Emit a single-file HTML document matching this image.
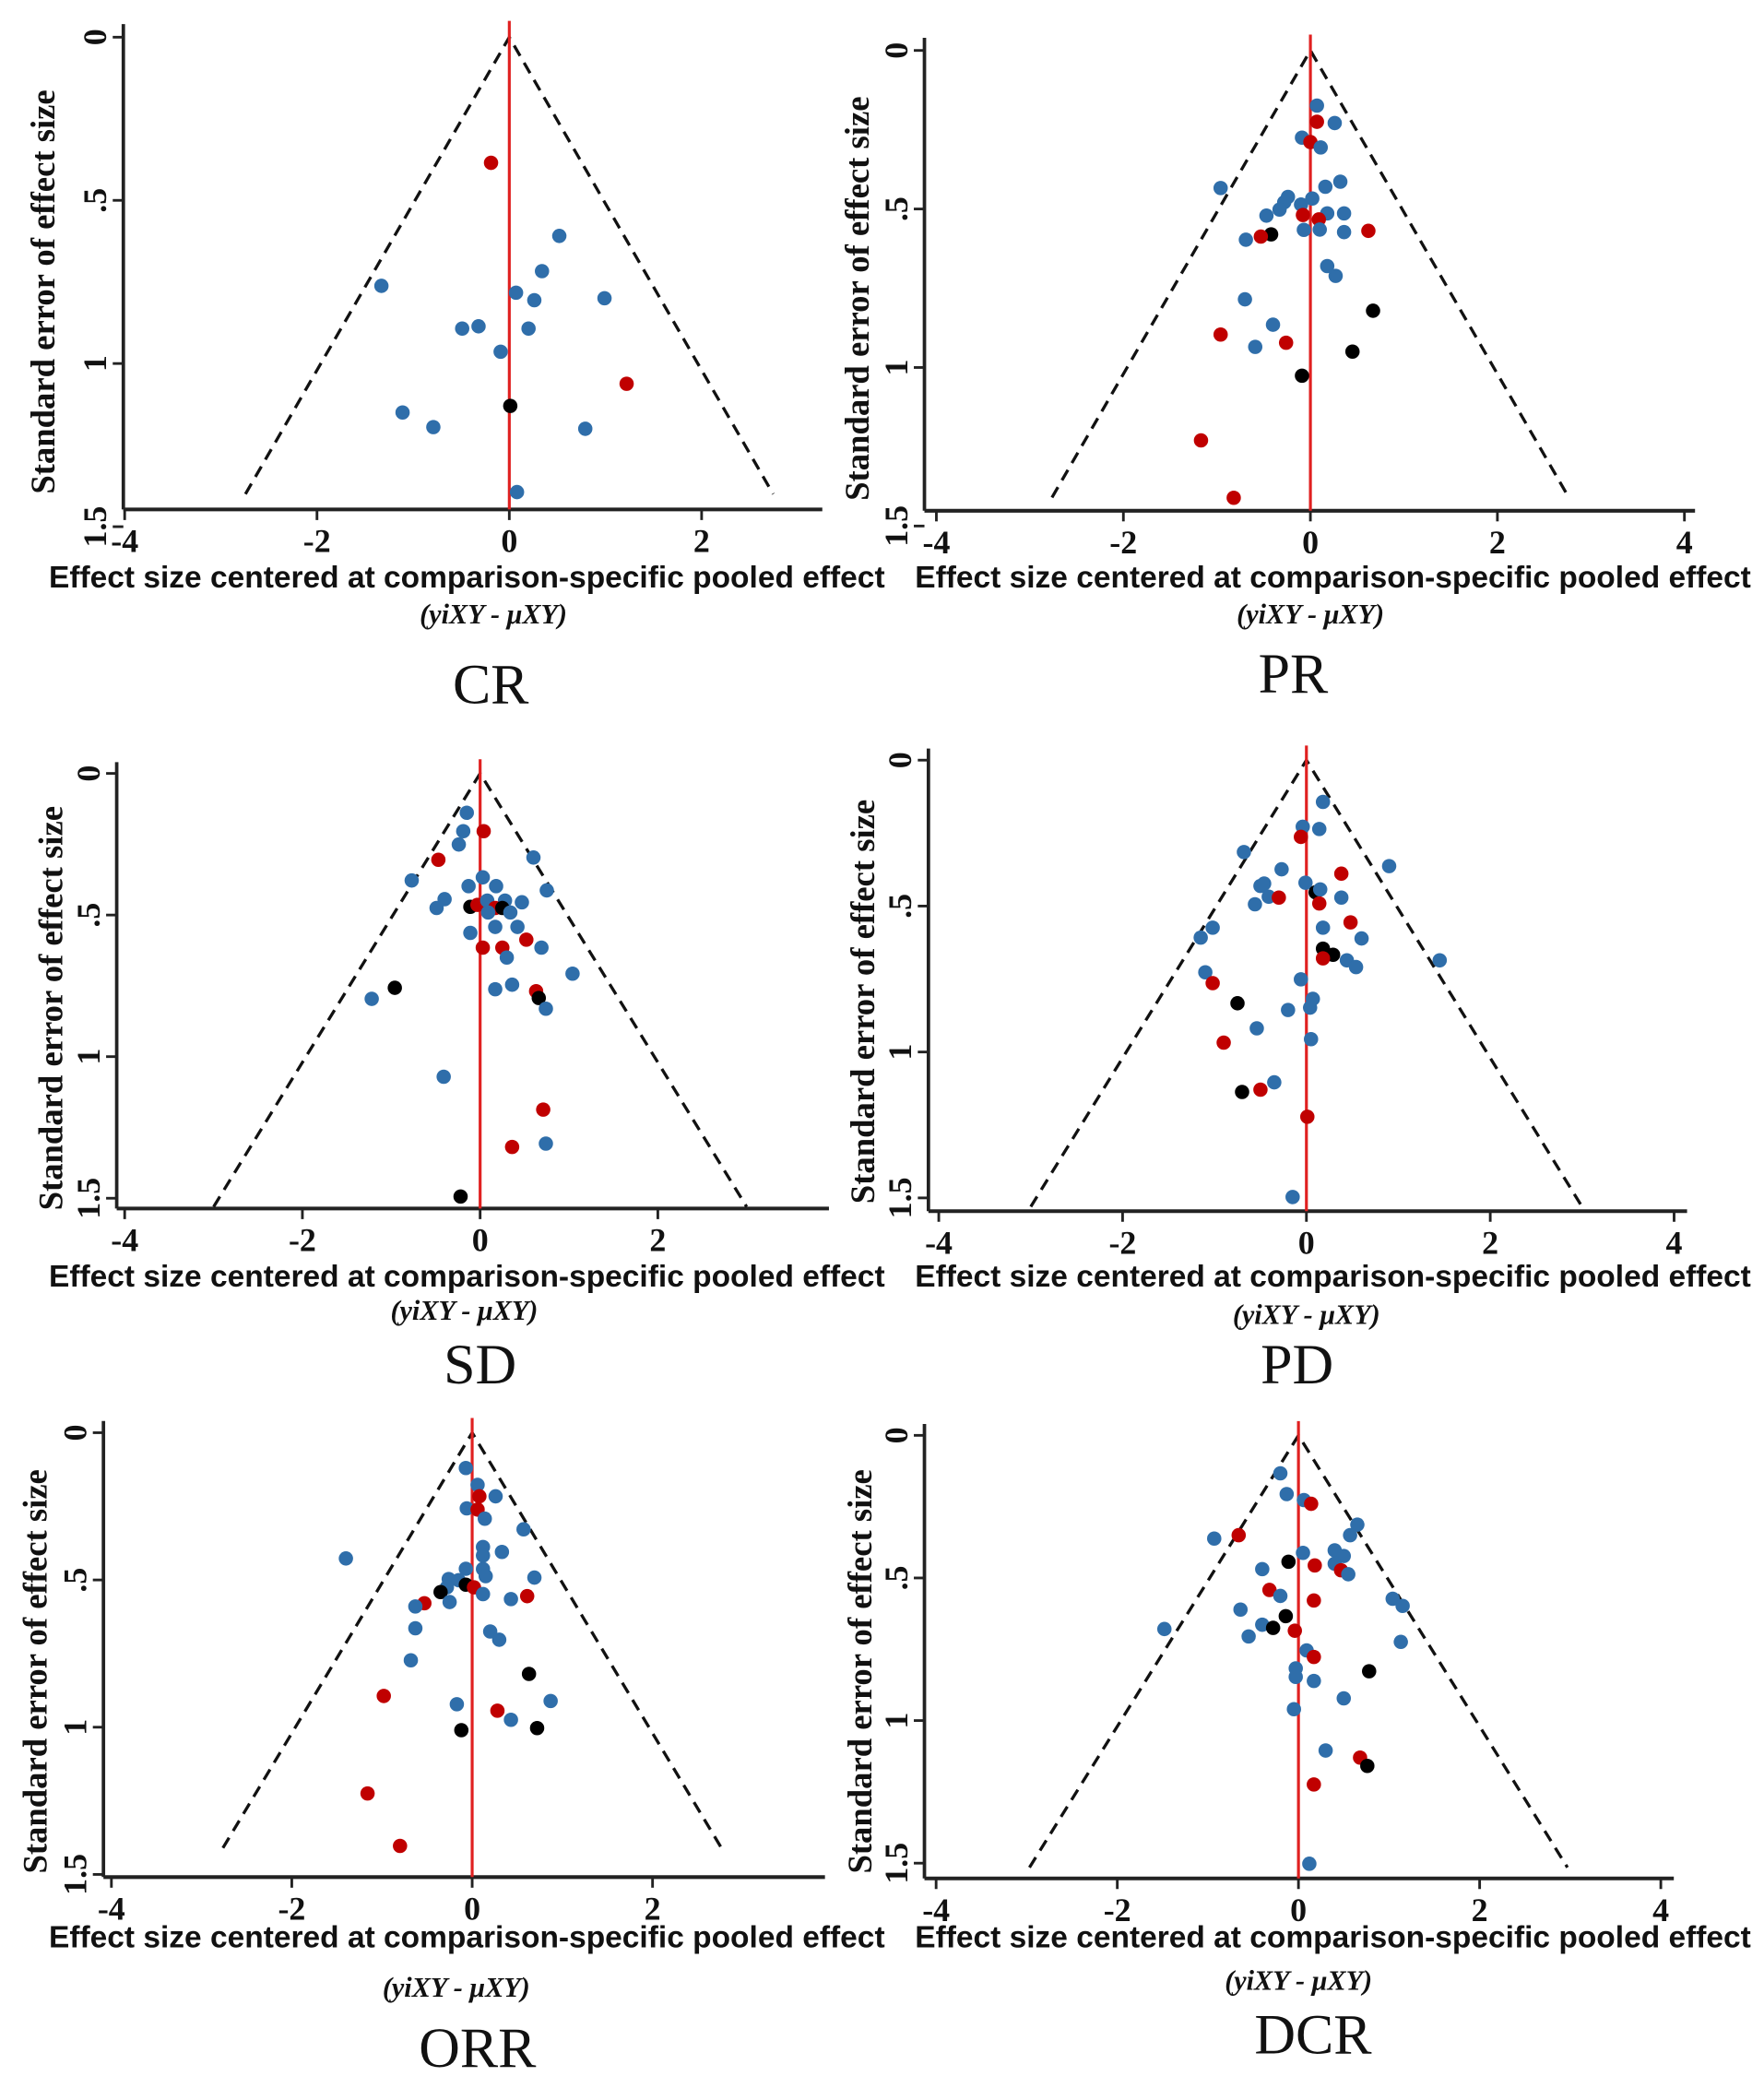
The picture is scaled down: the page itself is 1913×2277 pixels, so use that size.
<!DOCTYPE html>
<html><head><meta charset="utf-8"><style>
html,body{margin:0;padding:0;background:#fff;}
svg{display:block;}
</style></head><body>
<svg id="fig" width="1913" height="2277" viewBox="0 0 1330 1583" xmlns="http://www.w3.org/2000/svg"></svg>
<script>
// ---- data (effect size centered, standard error, group: b=blue r=red k=black) ----
const crX  = [-0.19,0.52,0.34,-1.33,0.07,0.26,0.99,-0.49,-0.32,0.20,-0.09,1.22,0.01,-1.11,-0.79,0.79,0.08];
const crSE = [0.385,0.609,0.717,0.762,0.783,0.806,0.80,0.893,0.886,0.893,0.964,1.062,1.13,1.15,1.195,1.2,1.394];
const crG  = ['r','b','b','b','b','b','b','b','b','b','b','r','k','b','b','b','b'];

const prX  = [0.07,0.07,0.26,-0.09,0.0,0.11,-0.96,0.32,0.16,-0.24,-0.28,-0.33,0.02,-0.10,-0.08,0.18,0.36,-0.47,0.09,-0.07,0.10,0.36,0.62,-0.42,-0.53,-0.69,0.18,0.27,-0.70,0.67,-0.40,-0.96,-0.26,-0.59,0.45,-0.09,-1.17,-0.82];
const prSE = [0.174,0.225,0.229,0.275,0.289,0.306,0.434,0.414,0.43,0.462,0.479,0.502,0.467,0.486,0.519,0.514,0.514,0.521,0.533,0.566,0.565,0.573,0.569,0.58,0.587,0.597,0.68,0.711,0.785,0.821,0.865,0.896,0.922,0.935,0.95,1.026,1.23,1.411];
const prG  = ['b','r','b','b','r','b','b','b','b','b','b','b','b','b','r','b','b','b','r','b','b','b','r','k','r','b','b','b','b','k','b','r','r','b','k','k','r','r'];

const sdX  = [-0.15,-0.19,0.04,-0.24,-0.47,0.60,-0.77,0.03,-0.13,0.18,0.75,-0.40,-0.49,-0.11,-0.03,0.08,0.28,0.47,0.17,0.25,0.09,0.34,0.17,0.42,-0.11,0.52,0.03,0.25,0.69,0.30,1.04,-0.96,0.17,0.36,0.63,0.66,-1.22,0.74,-0.41,0.71,0.36,0.74,-0.22];
const sdSE = [0.139,0.204,0.204,0.251,0.305,0.297,0.378,0.367,0.398,0.398,0.413,0.444,0.475,0.471,0.464,0.449,0.449,0.455,0.475,0.475,0.491,0.491,0.542,0.542,0.563,0.587,0.615,0.615,0.615,0.650,0.707,0.757,0.762,0.746,0.769,0.793,0.796,0.831,1.071,1.187,1.319,1.307,1.494];
const sdG  = ['b','b','r','b','r','b','b','b','b','b','b','b','b','k','r','b','b','b','r','k','b','b','b','b','b','r','r','r','b','b','b','k','b','b','r','k','b','b','b','r','r','b','k'];

const pdX  = [0.18,-0.04,0.14,-0.06,-0.68,0.90,-0.27,0.38,-0.01,-0.50,-0.46,0.10,0.15,-0.41,-0.30,0.38,0.14,-0.56,0.48,0.18,-1.02,-1.15,0.60,0.18,0.29,0.18,0.44,0.54,1.45,-1.10,-1.02,-0.06,0.07,0.04,-0.75,-0.20,-0.54,0.05,-0.90,-0.35,-0.50,-0.70,0.01,-0.15];
const pdSE = [0.143,0.228,0.236,0.263,0.315,0.363,0.374,0.389,0.420,0.431,0.423,0.453,0.443,0.468,0.471,0.471,0.491,0.494,0.556,0.574,0.574,0.608,0.611,0.646,0.667,0.679,0.686,0.709,0.686,0.727,0.764,0.751,0.818,0.848,0.833,0.856,0.919,0.956,0.968,1.104,1.129,1.137,1.222,1.497];
const pdG  = ['b','b','b','r','b','b','b','r','b','b','b','k','b','b','r','b','r','b','r','b','b','b','b','k','k','r','b','b','b','b','r','b','b','b','k','b','b','b','r','b','r','k','r','b'];

const orrX  = [-0.07,0.06,0.08,0.26,-0.06,0.06,0.14,0.57,0.12,0.12,0.33,-1.40,-0.07,0.12,0.15,0.69,-0.26,-0.15,-0.28,-0.07,0.02,0.12,-0.35,0.61,0.43,-0.25,-0.53,-0.63,-0.63,0.20,0.30,-0.68,0.63,-0.98,0.87,-0.17,0.28,0.43,-0.12,0.72,-1.16,-0.80];
const orrSE = [0.12,0.177,0.216,0.216,0.257,0.261,0.292,0.328,0.388,0.417,0.405,0.427,0.462,0.463,0.487,0.492,0.497,0.501,0.525,0.516,0.525,0.548,0.541,0.555,0.565,0.575,0.579,0.590,0.664,0.675,0.703,0.773,0.819,0.894,0.911,0.922,0.944,0.975,1.01,1.003,1.225,1.403];
const orrG  = ['b','b','r','b','b','r','b','b','b','b','b','b','b','b','b','b','b','b','b','k','r','b','k','r','b','b','r','b','b','b','b','b','k','r','b','b','r','b','k','k','r','r'];

const dcrX  = [-0.20,-0.13,0.06,0.14,0.65,0.57,-0.93,-0.66,0.40,0.50,0.05,-0.11,0.18,0.40,0.47,0.55,-0.40,-0.32,-0.20,0.17,1.04,1.15,-0.64,-0.14,-1.48,-0.40,-0.28,-0.04,-0.55,1.13,0.09,0.17,0.78,-0.03,-0.03,0.17,0.50,-0.05,0.30,0.68,0.76,0.17,0.12];
const dcrSE = [0.133,0.206,0.227,0.24,0.313,0.35,0.362,0.35,0.403,0.423,0.412,0.443,0.456,0.45,0.473,0.487,0.469,0.542,0.563,0.579,0.573,0.598,0.611,0.634,0.679,0.664,0.675,0.685,0.705,0.724,0.754,0.777,0.827,0.817,0.847,0.861,0.922,0.960,1.105,1.13,1.159,1.224,1.502];
const dcrG  = ['b','b','b','r','b','b','b','r','b','b','b','k','r','b','r','b','b','r','b','r','b','b','b','k','b','b','k','r','b','b','b','r','k','b','b','b','b','b','b','r','k','r','b'];

const xTicksShort = [-4,-2,0,2];
const xTicksLong  = [-4,-2,0,2,4];
const yTicks = [0,0.5,1,1.5];
const yTickLabels = ['0','.5','1','1.5'];

// ---- layout (pixel geometry, not data) ----
const panels = [
 {name:'cr', label:'CR', x:crX, se:crSE, g:crG, ax:93, x0:384, sx:72.5, y0:28, sy:246, xAxisY:384, right:620, seMax:1.40, ticks:xTicksShort, titleY:443, subY:470, labY:530, labX:370, ytX:32, ytY:220},
 {name:'pr', label:'PR', x:prX, se:prSE, g:prG, ax:697, x0:988, sx:70.5, y0:38, sy:239, xAxisY:385, right:1278, seMax:1.41, ticks:xTicksLong, titleY:443, subY:470, labY:522, labX:975, ytX:646, ytY:225},
 {name:'sd', label:'SD', x:sdX, se:sdSE, g:sdG, ax:88, x0:362, sx:67, y0:583, sy:213.5, xAxisY:911, right:625, seMax:1.53, ticks:xTicksShort, titleY:970, subY:995, labY:1043, labX:362, ytX:38, ytY:760},
 {name:'pd', label:'PD', x:pdX, se:pdSE, g:pdG, ax:700, x0:985, sx:69.3, y0:573, sy:220, xAxisY:913, right:1272, seMax:1.53, ticks:xTicksLong, titleY:970, subY:998, labY:1043, labX:978, ytX:650, ytY:755},
 {name:'orr', label:'ORR', x:orrX, se:orrSE, g:orrG, ax:78, x0:356, sx:68, y0:1080, sy:222, xAxisY:1415, right:622, seMax:1.41, ticks:xTicksShort, titleY:1468, subY:1505, labY:1558, labX:360, ytX:26, ytY:1260},
 {name:'dcr', label:'DCR', x:dcrX, se:dcrSE, g:dcrG, ax:697, x0:979, sx:68.3, y0:1082, sy:215, xAxisY:1416, right:1262, seMax:1.515, ticks:xTicksLong, titleY:1468, subY:1500, labY:1548, labX:990, ytX:648, ytY:1260}
];
const colors = {b:'#2f6eaa', r:'#c00000', k:'#000000'};
const NS = 'http://www.w3.org/2000/svg';
const svg = document.getElementById('fig');
function mk(tag, attrs, parent, text){
  const e = document.createElementNS(NS, tag);
  for (const k in attrs) e.setAttribute(k, attrs[k]);
  if (text !== undefined) e.textContent = text;
  parent.appendChild(e);
  return e;
}
panels.forEach(p => {
  const X = v => p.x0 + v * p.sx;
  const Y = s => p.y0 + s * p.sy;
  const g = mk('g', {}, svg);
  
  
  const topY = Y(-0.04);
  const ya = mk('line', {x1:p.ax, y1:topY, x2:p.ax, y2:p.xAxisY, stroke:'#222', 'stroke-width':2.6}, g);
  
  
  const xa = mk('line', {x1:p.ax, y1:p.xAxisY, x2:p.right, y2:p.xAxisY, stroke:'#222', 'stroke-width':2.8}, g);
  
  
  p.ticks.forEach(t => {
    mk('line', {x1:X(t), y1:p.xAxisY, x2:X(t), y2:p.xAxisY+8, stroke:'#222', 'stroke-width':2}, g);
    const tl = mk('text', {x:X(t), y:p.xAxisY+32, 'text-anchor':'middle', 'font-family':'Liberation Serif, serif', 'font-weight':'bold', 'font-size':25, fill:'#111'}, g, String(t));
    
    
  });
  yTicks.forEach((t, i) => {
    const yy = Y(t);
    mk('line', {x1:p.ax-8, y1:yy, x2:p.ax, y2:yy, stroke:'#222', 'stroke-width':2}, g);
    const tl = mk('text', {x:0, y:0, transform:`translate(${p.ax-13},${yy}) rotate(-90)`, 'text-anchor':'middle', 'font-family':'Liberation Serif, serif', 'font-weight':'bold', 'font-size':25, fill:'#111'}, g, yTickLabels[i]);
    
    
  });
  const w = 1.96 * p.seMax;
  const fn = mk('polyline', {points:`${X(-w)},${Y(p.seMax)} ${X(0)},${Y(0)} ${X(w)},${Y(p.seMax)}`, fill:'none', stroke:'#111', 'stroke-width':2.3, 'stroke-dasharray':'9 6'}, g);
  
  
  const cl = mk('line', {x1:X(0), y1:Y(-0.05), x2:X(0), y2:p.xAxisY, stroke:'#e02020', 'stroke-width':2.2}, g);
  
  
  p.x.forEach((v, i) => {
    const c = mk('circle', {cx:X(v), cy:Y(p.se[i]), r:5.4, fill:colors[p.g[i]]}, g);
    
    
  });
  const yt = mk('text', {x:0, y:0, transform:`translate(${p.ytX+9},${p.ytY}) rotate(-90)`, 'text-anchor':'middle', 'font-family':'Liberation Serif, serif', 'font-weight':'bold', 'font-size':25.5, fill:'#111'}, g, 'Standard error of effect size');
  
  
  const xt = mk('text', {x:(p.ax<400?352:1005), y:p.titleY, 'text-anchor':'middle', 'font-family':'Liberation Sans, sans-serif', 'font-weight':'bold', 'font-size':23.3, fill:'#111'}, g, 'Effect size centered at comparison-specific pooled effect');
  
  
  const st = mk('text', {x:(p.ax<400?p.x0-12:p.x0), y:p.subY, 'text-anchor':'middle', 'font-family':'Liberation Serif, serif', 'font-weight':'bold', 'font-style':'italic', 'font-size':21, fill:'#111'}, g, '(yiXY - μXY)');
  
  
  const lb = mk('text', {x:p.labX, y:p.labY, 'text-anchor':'middle', 'font-family':'Liberation Serif, serif', 'font-size':43, fill:'#111'}, g, p.label);
  
  
});
</script>
</body></html>
